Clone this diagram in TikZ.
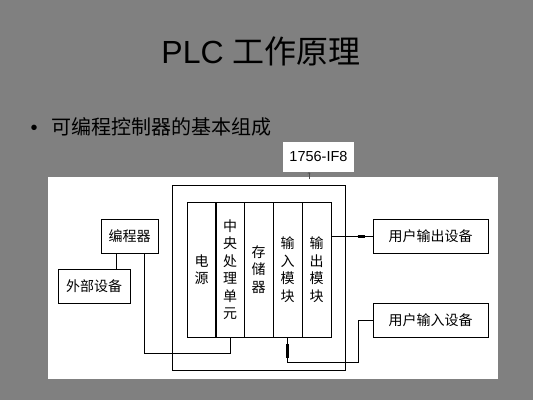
\documentclass[tikz,border=0pt]{standalone}
\usepackage{fontspec}
\setmainfont{Liberation Sans}
\newfontfamily\cjk{Noto Sans CJK SC}
\usetikzlibrary{arrows.meta}
\definecolor{bg}{HTML}{808080}
\begin{document}
\begin{tikzpicture}[x=1pt,y=-1pt,
  box/.style={draw=black, line width=0.9pt, fill=white, inner sep=0pt, font=\cjk\fontsize{14}{16}\selectfont},
  col/.style={draw=black, line width=0.9pt, inner sep=0pt, minimum width=29pt, minimum height=135pt, align=center, font=\cjk\fontsize{14}{17.5}\selectfont},
  wire/.style={draw=black, line width=0.9pt},
  plug/.style={draw=black, line width=3pt}]
\useasboundingbox (0,0) rectangle (533,400);
\fill[bg] (0,0) rectangle (533,400);
\node[font=\fontsize{32}{36}\selectfont] (title) at (261,51) {PLC {\cjk 工作原理}};
\node[font=\fontsize{20}{24}\selectfont, anchor=west] (bul) at (27,127) {•\hspace{14pt}{\cjk 可编程控制器的基本组成}};
\fill[white] (48,177) rectangle (498,379);
\node[fill=white, minimum width=71pt, minimum height=30pt, inner sep=0pt, font=\fontsize{14.5}{16}\selectfont] (lbl) at (318.5,157) {1756-IF8};
\coordinate (ap) at (309,179);
\draw[-{To[length=2pt,width=3pt]}, line width=0.4pt, black!70] (ap) -- (ap |- lbl.south);
\node[draw=black, line width=0.9pt, minimum width=173pt, minimum height=185pt, inner sep=0pt] (plc) at (258.5,277.5) {};
\node[col] (pwr) at (201.5,269.5) {电\\源};
\node[col] (cpu) at (230,269.5) {中\\央\\处\\理\\单\\元};
\node[col] (mem) at (258.5,269.5) {存\\储\\器};
\node[col] (inm) at (287.5,269.5) {输\\入\\模\\块};
\node[col] (outm) at (316.5,269.5) {输\\出\\模\\块};
\node[box, minimum width=57pt, minimum height=34pt] (prog) at (129.5,236) {编程器};
\node[box, minimum width=72pt, minimum height=34pt] (ext) at (94,286) {外部设备};
\node[box, minimum width=115pt, minimum height=34pt] (uout) at (430.5,236) {用户输出设备};
\node[box, minimum width=115pt, minimum height=34pt] (uin) at (430.5,320) {用户输入设备};
\draw[wire] ([xshift=-13.5pt]prog.south) -- ([xshift=-13.5pt]prog.south |- ext.north);
\draw[wire] ([xshift=14.5pt]prog.south) -- ++(0,100) -| (cpu.south);
\draw[wire] (uout.west -| outm.east) -- (uout.west);
\draw[plug] ([xshift=-15pt]uout.west) -- ([xshift=-8pt]uout.west);
\draw[wire] (uin.west) -- ++(-14,0) -- ++(0,42) -| (inm.south);
\draw[plug] ([yshift=-7pt]inm.south) -- ([yshift=-21pt]inm.south);
\end{tikzpicture}
\end{document}
